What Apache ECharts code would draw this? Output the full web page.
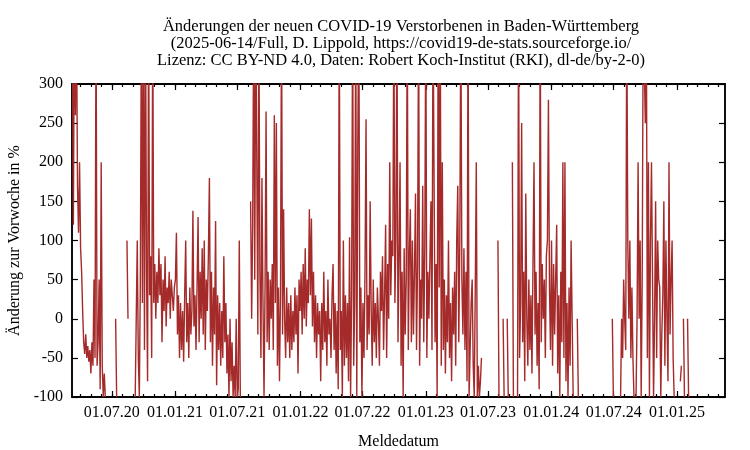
<!DOCTYPE html>
<html>
<head>
<meta charset="utf-8">
<script src="https://cdn.jsdelivr.net/npm/echarts@6/dist/echarts.min.js"></script>
<style>
  html, body { margin: 0; padding: 0; background: #fff; }
  #chart { width: 750px; height: 450px; }
</style>
</head>
<body>
<div id="chart"></div>
<script>
'use strict';

// one value every 3 days, starting 2020-03-08 (null = no value / division by zero)
const START = Date.UTC(2020, 2, 8);
const STEP_DAYS = 3;

const vals2020 = [
  400, 120, 400, 260, 400, 170, 110, 200, 90, 60,
  10, -30, -45, -20, -50, -35, -55, -40, -70, -30,
  -60, 50, -50, 400, -60, -30, 50, -90, 200, -60,
  -100, -70, -100, null, null, null, null, null, null, null,
  null, null, 0, -100, null, null, null, null, null, null,
  null, null, null, 100, 0, null, null, null, null, null,
  null, -100, 0, 100, -50, -100, 50, 400, 20, 400,
  -40, 400, 60, -80, 400, 30, 80, -50, 400, 20,
  70, 0, 60, 20, 90, 30, 70, -30, 50, 10,
  80, -10, 40, 20, 60, 0, 50, 30, 10, 40
];

const vals2021 = [
  50, 110, -20, 30, -50, 20, -40, 10, -55, 30,
  100, -30, 20, -50, 40, -20, 10, 138, -10, 30,
  -40, 40, 130, -30, 60, 0, 90, -20, 100, -40,
  50, 10, 80, 180, -30, 60, -60, 40, -20, 125,
  -85, 30, -40, 20, -60, 10, -50, 80, -30, 20,
  -70, -20, -100, 0, -80, -30, -100, -60, -100, 0,
  -100, -90, 100, -100, null, null, null, null, null, null,
  null, null, null, 150, 0, 120, 400, 50, 400, 200,
  -20, 400, 60, -50, 180, 20, -100, 40, 265, -30,
  60, -40, 50, 0, 70, -40, 260, 20, 250, -60,
  40, -80, 30, 400, -20, 140, 0, -50, 40, -30,
  20, -50, 30, -40, 10, -30, 40, -20, 30, -70,
  50, 10
];

const vals2022 = [
  60, -20, 70, 0, 90, -10, 50, 20, 140, 30,
  128, -10, 60, -30, 30, -50, 20, -20, 10, -80,
  20, -40, 60, -30, 10, -60, 50, -20, 0, -50,
  30, 70, -40, 20, -70, 10, -90, 400, -40, 10,
  -100, 100, -60, 30, -50, 20, -80, 104, -100, 30,
  400, -60, 20, 400, -100, 225, 400, -30, 40, -100,
  20, -50, 60, 255, -40, 30, -20, 150, 10, -60,
  50, -30, 20, -50, 40, 0, -60, 60, 10, 80,
  -40, 30, 120, -50, 70, 0, 200, 30, 100, 80,
  400, 20, 100, 400, -30, 70, 200, -60, 60, -100,
  90, -20, 50, 400, -40, 80, 140, -30, 100, -20,
  60, 160, -40, 70, 400, -60, 50, 0, 170, -30,
  90
];

const vals2023 = [
  400, -50, 60, 0, 80, 150, -40, 400, 400, -30,
  70, -100, 400, 40, 400, -60, 200, -40, 50, -70,
  30, -30, 100, -50, 20, -80, 40, -20, 60, -60,
  100, 170, -30, 100, 400, 50, -20, 90, -40, 60,
  -80, 400, -100, -100, 20, 50, -60, -100, 40, 200,
  -100, -60, -100, -80, -50, null, null, null, null, null,
  null, null, null, null, null, null, null, null, null, null,
  100, -100, null, null, null, 0, -100, null, null, 0,
  -100, null, null, null, 200, -100, null, null, null, -100,
  400, -50, 20, 250, -30, 60, -80, 160, 0, -60,
  50, -40, 30, -70, 70, 200, -20, 60, -60, 20,
  -90, 400, -30, 70, 0, 50, -50, 80, 100, 280,
  40, -40
];

const vals2024 = [
  100, -60, 70, -20, 50, 120, -70, 30, -100, 60,
  -30, 200, -50, 200, -80, 20, -100, 40, -60, 100,
  0, -100, null, null, null, 0, -100, null, null, null,
  null, null, null, null, null, null, null, null, null, null,
  null, null, null, null, null, null, null, null, null, null,
  null, null, null, null, null, null, null, null, null, 0,
  -100, null, null, null, null, null, null, -100, 0, -50,
  50, 0, -40, 400, 100, 0, 100, -50, 40, -50,
  -100, null, -100, 0, 200, 0, 100, -100, 50, 400,
  400, 250, 400, -50, 200, -100, 100, 200, 50, -100,
  0, 150, -50, 100, 50, 40, -100, -20, 30, 150,
  -60, 100, 0, -80, 200, -20, 50, 100, -50, -100,
  null, null, null, null, null, -80, -60, null, 0, -100,
  null, null, 0, -100
];

const majorTicks = [
  '2020-07-01', '2021-01-01', '2021-07-01', '2022-01-01', '2022-07-01',
  '2023-01-01', '2023-07-01', '2024-01-01', '2024-07-01', '2025-01-01'
];

const X_MIN = Date.UTC(2020, 2, 7);
const X_MAX = Date.UTC(2025, 4, 21);
const DAY = 24 * 3600 * 1000;

const values = [].concat(vals2020, vals2021, vals2022, vals2023, vals2024);
const points = values.map((v, i) => [START + i * STEP_DAYS * DAY, v]);

const majorValues = majorTicks.map(d => Date.parse(d + 'T00:00:00Z'));
const minorValues = [];
for (let y = 2020; y <= 2025; y++) {
  for (let m = 0; m < 12; m++) {
    const t = Date.UTC(y, m, 1);
    if (t > X_MIN && t < X_MAX) minorValues.push(t);
  }
}

const pad = n => (n < 10 ? '0' : '') + n;
const fmtDate = (t) => {
  const d = new Date(t);
  return pad(d.getUTCDate()) + '.' + pad(d.getUTCMonth() + 1) + '.' + String(d.getUTCFullYear()).slice(2);
};

const FONT = 'Liberation Serif';
const txt = { fontFamily: FONT, fontSize: 16, color: '#000' };
const BLACK = { color: '#000', width: 1.5 };
const TICK = { color: '#000', width: 1.2 };

// date axis drawn as a plain value axis over millisecond timestamps
const xBase = (extra) => Object.assign({
  type: 'value',
  min: X_MIN,
  max: X_MAX,
  splitLine: { show: false },
  axisLine: { show: true, onZero: false, lineStyle: BLACK },
}, extra);

const myChart = echarts.init(document.getElementById('chart'));

const option = {
  animation: false,
  backgroundColor: '#fff',
  title: {
    text: 'Änderungen der neuen COVID-19 Verstorbenen in Baden-Württemberg\n' +
      '(2025-06-14/Full, D. Lippold, https://covid19-de-stats.sourceforge.io/\n' +
      'Lizenz: CC BY-ND 4.0, Daten: Robert Koch-Institut (RKI), dl-de/by-2-0)',
    left: 396,
    textAlign: 'center',
    top: 13,
    textStyle: Object.assign({}, txt, { fontWeight: 'normal', fontSize: 16.5, lineHeight: 17 }),
  },
  grid: {
    left: 72, right: 25, top: 84, bottom: 53,
    outerBoundsMode: 'none',
    containLabel: false,
    show: true, borderColor: '#000', borderWidth: 1.5, backgroundColor: 'transparent',
  },
  xAxis: [
    xBase({
      position: 'bottom',
      name: 'Meldedatum',
      nameLocation: 'middle',
      nameGap: 37,
      nameTextStyle: txt,
      axisTick: { show: true, inside: true, length: 6, customValues: majorValues, lineStyle: TICK },
      axisLabel: Object.assign({}, txt, { customValues: majorValues, formatter: fmtDate, margin: 8 }),
    }),
    xBase({
      position: 'bottom',
      axisTick: { show: true, inside: true, length: 3, customValues: minorValues, lineStyle: TICK },
      axisLabel: { show: false },
    }),
    xBase({
      position: 'top',
      axisTick: { show: true, inside: true, length: 6, customValues: majorValues, lineStyle: TICK },
      axisLabel: { show: false },
    }),
    xBase({
      position: 'top',
      axisTick: { show: true, inside: true, length: 3, customValues: minorValues, lineStyle: TICK },
      axisLabel: { show: false },
    }),
  ],
  yAxis: [
    {
      type: 'value',
      min: -100,
      max: 300,
      interval: 50,
      position: 'left',
      name: 'Änderung zur Vorwoche in %',
      nameLocation: 'middle',
      nameGap: 46,
      nameRotate: 90,
      nameTextStyle: txt,
      splitLine: { show: false },
      axisLine: { show: true, onZero: false, lineStyle: BLACK },
      axisTick: { show: true, inside: true, length: 6, lineStyle: TICK },
      axisLabel: Object.assign({}, txt, { margin: 9 }),
    },
    {
      type: 'value',
      min: -100,
      max: 300,
      interval: 50,
      position: 'right',
      splitLine: { show: false },
      axisLine: { show: true, onZero: false, lineStyle: BLACK },
      axisTick: { show: true, inside: true, length: 6, lineStyle: TICK },
      axisLabel: { show: false },
    },
  ],
  series: [{
    type: 'line',
    xAxisIndex: 0,
    yAxisIndex: 0,
    data: points,
    showSymbol: false,
    connectNulls: false,
    clip: true,
    lineStyle: { color: '#a52a2a', width: 1.4 },
    itemStyle: { color: '#a52a2a' },
  }],
};

myChart.setOption(option);
</script>
</body>
</html>
